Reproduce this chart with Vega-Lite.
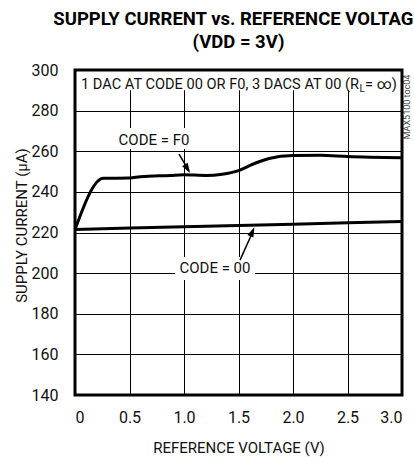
{
  "$schema": "https://vega.github.io/schema/vega-lite/v6.json",
  "autosize": "none",
  "width": 327,
  "height": 325,
  "padding": {"left": 75, "top": 70, "right": 12, "bottom": 62},
  "background": "white",
  "title": {
    "text": ["SUPPLY CURRENT vs. REFERENCE VOLTAGE", "(VDD = 3V)"],
    "font": "Roboto",
    "fontSize": 18.5,
    "fontWeight": "bold",
    "lineHeight": 23,
    "anchor": "middle",
    "offset": 11,
    "color": "#000"
  },
  "config": {
    "view": {"stroke": null},
    "font": "Roboto",
    "axis": {
      "grid": true,
      "gridColor": "#000",
      "gridWidth": 1,
      "gridOpacity": 1,
      "domain": false,
      "ticks": false,
      "labelFontSize": 16,
      "labelColor": "#111",
      "titleFontSize": 15,
      "titleFontWeight": "normal",
      "titleColor": "#111"
    }
  },
  "layer": [
    {
      "data": {"values": [{}]},
      "mark": {"type": "rect", "fill": "white", "stroke": null},
      "encoding": {
        "x": {"datum": 0, "type": "quantitative", "scale": {"domain": [0, 3], "nice": false, "zero": false},
          "axis": {
            "values": [0, 0.5, 1, 1.5, 2, 2.5, 3],
            "labelExpr": "datum.value == 0 ? '0' : format(datum.value, '.1f')",
            "labelPadding": 14,
            "title": "REFERENCE VOLTAGE (V)",
            "titlePadding": 15
          }},
        "x2": {"datum": 3},
        "y": {"datum": 290, "type": "quantitative", "scale": {"domain": [140, 300], "nice": false, "zero": false},
          "axis": {
            "values": [140, 160, 180, 200, 220, 240, 260, 280, 300],
            "labelPadding": 17,
            "title": "SUPPLY CURRENT (µA)",
            "titleX": -54,
            "titleY": 155,
            "titleBaseline": "middle",
            "titleAngle": -90
          }},
        "y2": {"datum": 300}
      }
    },
    {
      "data": {
        "values": [
          {"code": "F0", "v": 0.0, "i": 221.5},
          {"code": "F0", "v": 0.26, "i": 246.7},
          {"code": "F0", "v": 0.5, "i": 246.8},
          {"code": "F0", "v": 0.6, "i": 247.5},
          {"code": "F0", "v": 0.875, "i": 248.1},
          {"code": "F0", "v": 1.0, "i": 248.4},
          {"code": "F0", "v": 1.2, "i": 248.1},
          {"code": "F0", "v": 1.35, "i": 248.7},
          {"code": "F0", "v": 1.5, "i": 250.5},
          {"code": "F0", "v": 1.63, "i": 253.6},
          {"code": "F0", "v": 1.78, "i": 256.4},
          {"code": "F0", "v": 2.0, "i": 257.9},
          {"code": "F0", "v": 2.25, "i": 258.0},
          {"code": "F0", "v": 2.5, "i": 257.4},
          {"code": "F0", "v": 3.0, "i": 256.8},
          {"code": "00", "v": 0.0, "i": 221.5},
          {"code": "00", "v": 1.0, "i": 222.8},
          {"code": "00", "v": 2.0, "i": 224.1},
          {"code": "00", "v": 3.0, "i": 225.4}
        ]
      },
      "mark": {"type": "line", "color": "#000", "strokeWidth": 3, "interpolate": "monotone", "strokeJoin": "round"},
      "encoding": {
        "x": {"field": "v", "type": "quantitative"},
        "y": {"field": "i", "type": "quantitative"},
        "detail": {"field": "code"}
      }
    },
    {
      "data": {"values": [{}]},
      "mark": {"type": "rect", "fill": "white", "stroke": null},
      "encoding": {
        "x": {"datum": 0.385, "type": "quantitative"},
        "x2": {"datum": 1.064},
        "y": {"datum": 261.1, "type": "quantitative"},
        "y2": {"datum": 271.4}
      }
    },
    {
      "data": {"values": [{}]},
      "mark": {"type": "rect", "fill": "white", "stroke": null},
      "encoding": {
        "x": {"datum": 0.917, "type": "quantitative"},
        "x2": {"datum": 1.651},
        "y": {"datum": 196.6, "type": "quantitative"},
        "y2": {"datum": 207.9}
      }
    },
    {
      "data": {"values": [{}]},
      "mark": {"type": "text", "text": "CODE = F0", "fontSize": 15, "color": "#111", "align": "center", "baseline": "middle"},
      "encoding": {
        "x": {"datum": 0.725, "type": "quantitative"},
        "y": {"datum": 265.5, "type": "quantitative"}
      }
    },
    {
      "data": {"values": [{}]},
      "mark": {"type": "text", "text": "CODE = 00", "fontSize": 15, "color": "#111", "align": "center", "baseline": "middle"},
      "encoding": {
        "x": {"datum": 1.284, "type": "quantitative"},
        "y": {"datum": 202.3, "type": "quantitative"}
      }
    },
    {
      "data": {"values": [{}]},
      "mark": {"type": "rule", "color": "#000", "strokeWidth": 1.5},
      "encoding": {
        "x": {"datum": 0.954, "type": "quantitative"},
        "y": {"datum": 258.6, "type": "quantitative"},
        "x2": {"datum": 1.045},
        "y2": {"datum": 250.5}
      }
    },
    {
      "data": {"values": [{}]},
      "mark": {"type": "point", "shape": "M0,0L0.6,1.8L-0.6,1.8Z", "filled": true, "color": "#000", "opacity": 1, "size": 120, "angle": 149},
      "encoding": {
        "x": {"datum": 1.055, "type": "quantitative"},
        "y": {"datum": 249.3, "type": "quantitative"}
      }
    },
    {
      "data": {"values": [{}]},
      "mark": {"type": "rule", "color": "#000", "strokeWidth": 1.5},
      "encoding": {
        "x": {"datum": 1.514, "type": "quantitative"},
        "y": {"datum": 206.4, "type": "quantitative"},
        "x2": {"datum": 1.64},
        "y2": {"datum": 221.5}
      }
    },
    {
      "data": {"values": [{}]},
      "mark": {"type": "point", "shape": "M0,0L0.6,1.8L-0.6,1.8Z", "filled": true, "color": "#000", "opacity": 1, "size": 120, "angle": 23.5},
      "encoding": {
        "x": {"datum": 1.645, "type": "quantitative"},
        "y": {"datum": 222.6, "type": "quantitative"}
      }
    },
    {
      "data": {"values": [{}]},
      "mark": {"type": "text", "text": "1 DAC AT CODE 00 OR F0, 3 DACS AT 00 (R", "fontSize": 14.6, "color": "#111", "align": "right", "baseline": "middle"},
      "encoding": {
        "x": {"datum": 2.606, "type": "quantitative"},
        "y": {"datum": 292.6, "type": "quantitative"}
      }
    },
    {
      "data": {"values": [{}]},
      "mark": {"type": "text", "text": "L", "fontSize": 10, "color": "#111", "align": "left", "baseline": "middle", "dy": 4},
      "encoding": {
        "x": {"datum": 2.61, "type": "quantitative"},
        "y": {"datum": 292.6, "type": "quantitative"}
      }
    },
    {
      "data": {"values": [{}]},
      "mark": {"type": "text", "text": "= ∞)", "fontSize": 14.6, "color": "#111", "align": "left", "baseline": "middle"},
      "encoding": {
        "x": {"datum": 2.661, "type": "quantitative"},
        "y": {"datum": 292.6, "type": "quantitative"}
      }
    },
    {
      "data": {"values": [{}]},
      "mark": {"type": "text", "text": "MAX5100 toc04", "fontSize": 9, "color": "#444", "align": "center", "baseline": "middle", "angle": 270, "clip": false},
      "encoding": {
        "x": {"datum": 3.043, "type": "quantitative"},
        "y": {"datum": 281.8, "type": "quantitative"}
      }
    },
    {
      "data": {"values": [{}]},
      "mark": {"type": "rect", "fill": null, "fillOpacity": 0, "stroke": "#000", "strokeWidth": 3},
      "encoding": {
        "x": {"datum": 0, "type": "quantitative"},
        "x2": {"datum": 3},
        "y": {"datum": 140, "type": "quantitative"},
        "y2": {"datum": 300}
      }
    }
  ]
}
